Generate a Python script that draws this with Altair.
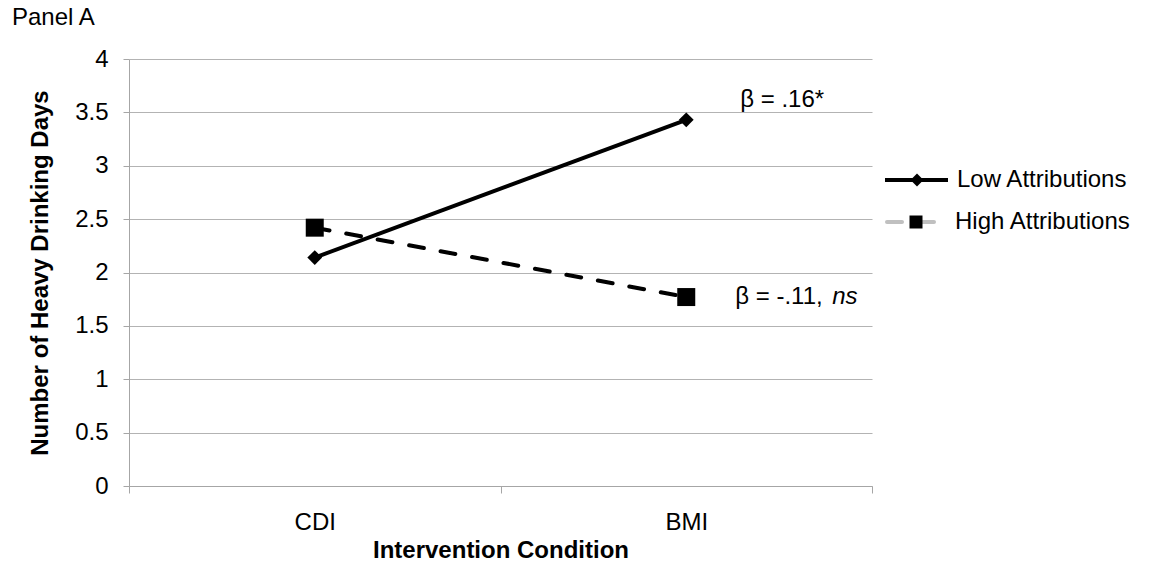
import altair as alt
import pandas as pd

conditions = ["CDI", "BMI"]
low_values = [2.14, 3.43]
high_values = [2.42, 1.77]
groups = ["Low Attributions", "High Attributions"]
y_ticks = [0, 0.5, 1, 1.5, 2, 2.5, 3, 3.5, 4]

rows = []
for g, vals in zip(groups, [low_values, high_values]):
    for c, v in zip(conditions, vals):
        rows.append({"condition": c, "value": v, "group": g})
df = pd.DataFrame(rows)

FONT = "Liberation Sans"
FS = 24
W, H = 743, 427

xenc = alt.X("condition:N", sort=conditions, bandPosition=0.5,
             scale=alt.Scale(type="band", paddingInner=0, paddingOuter=0),
             axis=alt.Axis(title="Intervention Condition", labelAngle=0, tickBand="extent",
                           tickSize=7, tickColor="#a6a6a6", domainColor="#a6a6a6",
                           labelFontSize=FS, labelFont=FONT, labelColor="black", labelPadding=17,
                           titleFontSize=FS, titleFont=FONT, titleFontWeight="bold",
                           titleColor="black", titlePadding=4, grid=False))
yenc = alt.Y("value:Q", scale=alt.Scale(domain=[0, 4], nice=False),
             axis=alt.Axis(title="Number of Heavy Drinking Days", values=y_ticks, format=".1~f",
                           tickSize=6, tickColor="#a6a6a6", domainColor="#a6a6a6",
                           gridColor="#b3b3b3", labelFontSize=FS, labelFont=FONT,
                           labelColor="black", labelPadding=15,
                           titleFontSize=FS, titleFont=FONT, titleFontWeight="bold",
                           titleColor="black", titlePadding=22))

base = alt.Chart(df)

low = base.transform_filter(alt.datum.group == "Low Attributions")
high = base.transform_filter(alt.datum.group == "High Attributions")

low_line = low.mark_line(color="black", strokeWidth=4).encode(x=xenc, y=yenc)
low_pts = low.mark_point(shape="diamond", filled=True, color="black", size=220, opacity=1).encode(x=xenc, y=yenc)
high_line = high.mark_line(color="black", strokeWidth=4, strokeDash=[15, 17], strokeCap="round").encode(x=xenc, y=yenc)
high_pts = high.mark_point(shape="square", filled=True, color="black", size=324, opacity=1).encode(x=xenc, y=yenc)

ann_xenc = alt.X("condition:N", sort=conditions, bandPosition=0.5)
ann1 = alt.Chart(pd.DataFrame({"condition": ["BMI"], "value": [low_values[1]], "label": ["β = .16*"]})).mark_text(
    align="left", baseline="middle", font=FONT, fontSize=FS, color="black", dx=54, dy=-20).encode(
    x=ann_xenc, y="value:Q", text="label:N")
ann2 = alt.Chart(pd.DataFrame({"condition": ["BMI"], "value": [high_values[1]], "label": ["β = -.11,"]})).mark_text(
    align="left", baseline="middle", font=FONT, fontSize=FS, color="black", dx=49).encode(
    x=ann_xenc, y="value:Q", text="label:N")
ns = alt.Chart(pd.DataFrame({"condition": ["BMI"], "value": [high_values[1]], "label": ["ns"]})).mark_text(
    align="left", baseline="middle", font=FONT, fontSize=FS, fontStyle="italic", color="black", dx=146).encode(
    x=ann_xenc, y="value:Q", text="label:N")

# title
title = alt.Chart(pd.DataFrame({"t": ["Panel A"]})).mark_text(
    align="left", baseline="middle", font=FONT, fontSize=FS, color="black").encode(
    x=alt.value(-117), y=alt.value(-41), text="t:N")

# legend
leg = pd.DataFrame({"t": [0]})
lg_low_line = alt.Chart(leg).mark_rule(color="black", strokeWidth=4).encode(
    x=alt.value(756), x2=alt.value(819), y=alt.value(121))
lg_low_pt = alt.Chart(leg).mark_point(shape="diamond", filled=True, color="black", size=170, opacity=1).encode(
    x=alt.value(788), y=alt.value(121))
lg_low_txt = alt.Chart(pd.DataFrame({"t": [groups[0]]})).mark_text(
    align="left", baseline="middle", font=FONT, fontSize=FS, color="black").encode(
    x=alt.value(828), y=alt.value(121), text="t:N")
lg_high_line1 = alt.Chart(leg).mark_rule(color="#c0c0c0", strokeWidth=4, strokeCap="round").encode(
    x=alt.value(758), x2=alt.value(773), y=alt.value(163))
lg_high_line2 = alt.Chart(leg).mark_rule(color="#c0c0c0", strokeWidth=4, strokeCap="round").encode(
    x=alt.value(793), x2=alt.value(805), y=alt.value(163))
lg_high_pt = alt.Chart(leg).mark_point(shape="square", filled=True, color="black", size=169, opacity=1).encode(
    x=alt.value(787), y=alt.value(163))
lg_high_txt = alt.Chart(pd.DataFrame({"t": [groups[1]]})).mark_text(
    align="left", baseline="middle", font=FONT, fontSize=FS, color="black").encode(
    x=alt.value(826), y=alt.value(163), text="t:N")

chart = alt.layer(
    high_line, low_line, high_pts, low_pts, ann1, ann2, ns, title,
    lg_low_line, lg_low_pt, lg_low_txt, lg_high_line1, lg_high_line2, lg_high_pt, lg_high_txt
).properties(
    width=W, height=H,
    autosize=alt.AutoSizeParams(type="none"),
    padding={"left": 129, "top": 59, "right": 285, "bottom": 84},
    background="white",
).configure_view(stroke=None)

chart.save("out.html", embed_options={"renderer": "svg", "actions": False})
